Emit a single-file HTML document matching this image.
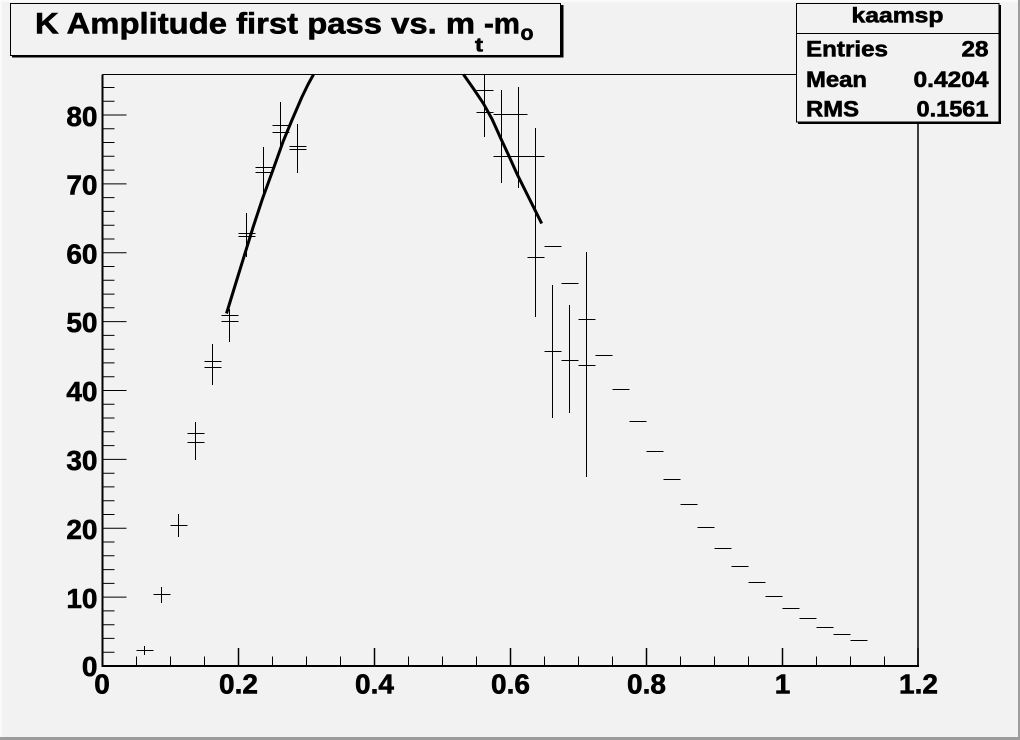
<!DOCTYPE html>
<html>
<head>
<meta charset="utf-8">
<style>
html,body{margin:0;padding:0;background:#f2f2f2;}
svg{display:block;}
text{font-family:"Liberation Sans",Arial,sans-serif;font-weight:bold;fill:#000;stroke:#000;stroke-width:0.6px;}
</style>
</head>
<body>
<svg width="1020" height="740" viewBox="0 0 1020 740" xmlns="http://www.w3.org/2000/svg">
<rect x="0" y="0" width="1020" height="740" fill="#f2f2f2"/>
<!-- canvas border -->
<rect x="0" y="0" width="1020" height="2" fill="#fafafa"/>
<rect x="0" y="0" width="2" height="740" fill="#fafafa"/>
<rect x="0" y="737" width="1020" height="3" fill="#9c9c9c"/>
<rect x="1018" y="0" width="2" height="740" fill="#9c9c9c"/>

<!-- frame top/right -->
<line x1="102.5" y1="74.5" x2="918" y2="74.5" stroke="#000" stroke-width="1"/>
<line x1="918" y1="74.5" x2="918" y2="666" stroke="#000" stroke-width="1.5"/>

<!-- y ticks -->
<path d="M102.5 652.2H114.5M102.5 638.4H114.5M102.5 624.7H114.5M102.5 610.9H114.5M102.5 583.4H114.5M102.5 569.6H114.5M102.5 555.8H114.5M102.5 542H114.5M102.5 514.5H114.5M102.5 500.7H114.5M102.5 486.9H114.5M102.5 473.2H114.5M102.5 445.6H114.5M102.5 431.8H114.5M102.5 418H114.5M102.5 404.3H114.5M102.5 376.7H114.5M102.5 362.9H114.5M102.5 349.2H114.5M102.5 335.4H114.5M102.5 307.8H114.5M102.5 294.1H114.5M102.5 280.3H114.5M102.5 266.5H114.5M102.5 239H114.5M102.5 225.2H114.5M102.5 211.4H114.5M102.5 197.65H114.5M102.5 170.1H114.5M102.5 156.3H114.5M102.5 142.55H114.5M102.5 128.8H114.5M102.5 101.2H114.5M102.5 87.45H114.5" stroke="#000" stroke-width="1"/>
<path d="M102.5 597.1H126.5M102.5 528.2H126.5M102.5 459.4H126.5M102.5 390.5H126.5M102.5 321.6H126.5M102.5 252.75H126.5M102.5 183.9H126.5M102.5 115H126.5" stroke="#000" stroke-width="1"/>

<!-- x ticks -->
<path d="M136.5 666V656.5M170.5 666V656.5M204.5 666V656.5M272.5 666V656.5M306.5 666V656.5M340.5 666V656.5M408.5 666V656.5M442.5 666V656.5M476.5 666V656.5M544.5 666V656.5M578.5 666V656.5M612.5 666V656.5M680.5 666V656.5M714.5 666V656.5M748.5 666V656.5M816.5 666V656.5M850.5 666V656.5M884.5 666V656.5" stroke="#000" stroke-width="1"/>
<path d="M238.5 666V648M374.5 666V648M510.5 666V648M646.5 666V648M782.5 666V648M918 666V648" stroke="#000" stroke-width="1.5"/>

<!-- axes -->
<line x1="102.5" y1="74.5" x2="102.5" y2="667" stroke="#000" stroke-width="2"/>
<line x1="101.5" y1="666" x2="919" y2="666" stroke="#000" stroke-width="2"/>

<!-- y labels -->
<g font-size="28" text-anchor="end">
<text x="97.5" y="676">0</text>
<text x="97.5" y="608">10</text>
<text x="97.5" y="539">20</text>
<text x="97.5" y="470">30</text>
<text x="97.5" y="401">40</text>
<text x="97.5" y="332">50</text>
<text x="97.5" y="263.5">60</text>
<text x="97.5" y="194.5">70</text>
<text x="97.5" y="126">80</text>
</g>
<!-- x labels -->
<g font-size="28" text-anchor="middle">
<text x="102" y="693.5">0</text>
<text x="238.5" y="693.5">0.2</text>
<text x="374.5" y="693.5">0.4</text>
<text x="510.5" y="693.5">0.6</text>
<text x="646.5" y="693.5">0.8</text>
<text x="782.5" y="693.5">1</text>
<text x="918.5" y="693.5">1.2</text>
</g>

<!-- data: horizontal bin lines -->
<path stroke="#000" stroke-width="1" fill="none" d="
M136.5 650.5H153.5 M153.5 594.5H170.5 M170.5 525.5H187.5
M187.5 433.5H204.5 M187.5 442.5H204.5
M204.5 361.5H221.5 M204.5 367.5H221.5
M221.5 315.5H238.5 M221.5 321.5H238.5
M238.5 233.5H255.5 M238.5 236.5H255.5
M255.5 167.5H272.5 M255.5 172.5H272.5
M272.5 125.5H289.5 M272.5 132.5H289.5
M289.5 146.5H306.5 M289.5 149.5H306.5
M476.5 90.5H493.5 M476.5 112.5H493.5
M493.5 114.5H510.5 M493.5 156.5H510.5
M510.5 114.5H527.5 M510.5 156.5H527.5
M527.5 156.5H544.5 M527.5 257.5H544.5
M544.5 246.5H561.5 M544.5 351.5H561.5
M561.5 283.5H578.5 M561.5 360.5H578.5
M578.5 319.5H595.5 M578.5 365.5H595.5
M595.5 355.5H612.5
M612.5 389.5H629.5
M629.5 421.5H646.5
M646.5 451.5H663.5
M663.5 479.5H680.5
M680.5 504.5H697.5
M697.5 527.5H714.5
M714.5 548.5H731.5
M731.5 566.5H748.5
M748.5 582.5H765.5
M765.5 596.5H782.5
M782.5 608.5H799.5
M799.5 618.5H816.5
M816.5 627.5H833.5
M833.5 634.5H850.5
M850.5 640.5H867.5
"/>
<!-- data: error bars -->
<path stroke="#000" stroke-width="1" fill="none" d="
M144.5 646V655 M161.5 587V603 M178.5 514V537
M195.5 422V460 M212.5 344V385 M229.5 309V342
M246.5 213V257 M263.5 147V193 M280.5 102V146 M297.5 124V173
M484.5 75V137 M501.5 90V183 M518.5 87V188 M535.5 128V317
M552.5 285V418 M569.5 305V413 M586.5 252V477
"/>

<!-- fit curves -->
<path d="M226.5 313.5 L236 282.5 L245 253.3 L253 227.5 L262.3 199.3 L273.3 169 L283.3 141 L292 120 L301.7 97.5 L308 84.5 L313.5 74.5" stroke="#000" stroke-width="3" fill="none" stroke-linejoin="round"/>
<path d="M463.5 74.5 L473 88 L483.3 103.3 L492 119 L500 136.7 L508.5 155 L516.7 173.3 L525 190 L533.3 206.7 L541.7 223.5" stroke="#000" stroke-width="3" fill="none" stroke-linejoin="round"/>

<!-- title box -->
<rect x="10.5" y="3.5" width="550" height="52" fill="#f2f2f2" stroke="#000" stroke-width="1"/>
<rect x="12" y="55" width="551.5" height="2.5" fill="#000"/>
<rect x="560.5" y="5" width="3" height="52.5" fill="#000"/>
<text x="35" y="33.5" font-size="30" textLength="440" lengthAdjust="spacingAndGlyphs">K Amplitude first pass vs. m</text>
<text x="475" y="51.5" font-size="19" textLength="8" lengthAdjust="spacingAndGlyphs">t</text>
<text x="484" y="33.5" font-size="30" textLength="36" lengthAdjust="spacingAndGlyphs">-m</text>
<text x="520.5" y="40" font-size="21" textLength="13" lengthAdjust="spacingAndGlyphs">o</text>

<!-- stats box -->
<rect x="796.5" y="3.5" width="202.5" height="118.5" fill="#f2f2f2" stroke="#000" stroke-width="1"/>
<rect x="798" y="121.5" width="203" height="2.5" fill="#000"/>
<rect x="998.5" y="5" width="2.5" height="119" fill="#000"/>
<line x1="796.5" y1="33.5" x2="999" y2="33.5" stroke="#000" stroke-width="1"/>
<text x="897.5" y="22.5" font-size="21" text-anchor="middle" textLength="92" lengthAdjust="spacingAndGlyphs">kaamsp</text>
<text x="806" y="56.5" font-size="22" textLength="82" lengthAdjust="spacingAndGlyphs">Entries</text>
<text x="961.5" y="56.5" font-size="22" textLength="27" lengthAdjust="spacingAndGlyphs">28</text>
<text x="806" y="87" font-size="22" textLength="61" lengthAdjust="spacingAndGlyphs">Mean</text>
<text x="913.5" y="87" font-size="22" textLength="75" lengthAdjust="spacingAndGlyphs">0.4204</text>
<text x="806" y="116.5" font-size="22" textLength="53" lengthAdjust="spacingAndGlyphs">RMS</text>
<text x="916.5" y="116.5" font-size="22" textLength="72" lengthAdjust="spacingAndGlyphs">0.1561</text>
</svg>
</body>
</html>
